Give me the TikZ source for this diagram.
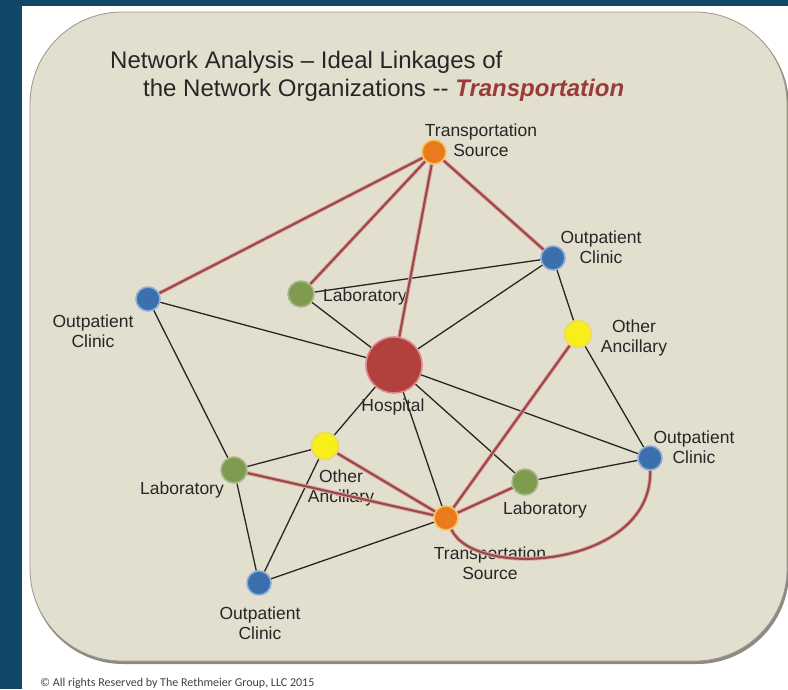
\documentclass[tikz,border=0pt]{standalone}
\usepackage{fontspec}
\setmainfont{Liberation Sans}
\newfontfamily\cfont{Carlito}
\pgfdeclarelayer{bg}
\pgfdeclarelayer{lbl}
\pgfdeclarelayer{edg}
\pgfsetlayers{bg,lbl,edg,main}
\definecolor{navy}{HTML}{104766}
\definecolor{beige}{HTML}{E3DFCF}
\definecolor{boxline}{HTML}{9A978C}
\definecolor{shadowc}{HTML}{8C8A82}
\definecolor{redl}{HTML}{9E4848}
\definecolor{redglow}{HTML}{DBA9A6}
\definecolor{titlered}{HTML}{9B3A3A}
\definecolor{bluec}{HTML}{3B6FAE}
\definecolor{blueg}{HTML}{8EAED4}
\definecolor{greenc}{HTML}{7F9B4F}
\definecolor{greeng}{HTML}{A9B98E}
\definecolor{yellowc}{HTML}{F7EE1A}
\definecolor{yellowg}{HTML}{E8DA6A}
\definecolor{orangec}{HTML}{EA7A1E}
\definecolor{orangeg}{HTML}{F4C45A}
\definecolor{hospc}{HTML}{B2403D}
\definecolor{hospg}{HTML}{D98A86}
\begin{document}
\begin{tikzpicture}[x=1pt,y=-1pt,
  dot/.style={circle,inner sep=0pt,line width=1.6pt},
  bluedot/.style={dot,fill=bluec,draw=blueg,minimum size=24pt},
  greendot/.style={dot,fill=greenc,draw=greeng,minimum size=26pt},
  yellowdot/.style={dot,fill=yellowc,draw=yellowg,minimum size=27pt},
  orangedot/.style={dot,fill=orangec,draw=orangeg,minimum size=24pt},
  hospdot/.style={dot,fill=hospc,draw=hospg,minimum size=56pt},
  lab/.style={inner sep=0pt,align=center,font=\fontsize{17.5}{20.5}\selectfont,text=black!85},
  blk/.style={draw=black!85,line width=1.3pt},
  redlink/.style={draw=redl,line width=2.2pt,preaction={draw=redglow,line width=4pt}},
  titlef/.style={inner sep=0pt,anchor=base west,font=\fontsize{24}{28}\selectfont,text=black!85}]
\useasboundingbox (0,0) rectangle (788,689);
\begin{pgfonlayer}{bg}
  \fill[white] (0,0) rectangle (788,689);
  \fill[navy] (0,0) rectangle (788,6);
  \fill[navy] (0,0) rectangle (22,689);
  \fill[shadowc,rounded corners=92pt] (31,14) rectangle (789,664);
  \filldraw[fill=beige,draw=boxline,line width=0.8pt,rounded corners=92pt] (30,12) rectangle (787,661);
\end{pgfonlayer}

\node[titlef] (t1) at (110,68) {Network Analysis – Ideal Linkages of};
\node[titlef] (t2) at (143,96) {the Network Organizations -{}- \textcolor{titlered}{\bfseries\itshape Transportation}};

% nodes
\node[orangedot] (tst) at (434,152) {};
\node[bluedot]   (octr) at (553,258) {};
\node[greendot]  (labt) at (301,294) {};
\node[bluedot]   (ocl) at (148,299) {};
\node[yellowdot] (oar) at (578,334) {};
\node[hospdot]   (hosp) at (394,365) {};
\node[yellowdot] (oal) at (325,446) {};
\node[bluedot]   (ocr) at (650,458) {};
\node[greendot]  (labl) at (234,470) {};
\node[greendot]  (labr) at (525,482) {};
\node[orangedot] (tsb) at (446,518) {};
\node[bluedot]   (ocb) at (259,583) {};

% labels
\begin{pgfonlayer}{lbl}
\node[lab] (ltst) at (481,140) {Transportation\\Source};
\node[lab] (locTR) at (601,247) {Outpatient\\Clinic};
\node[lab] (llabt) at (365,297) {Laboratory};
\node[lab] (locl) at (93,331) {Outpatient\\Clinic};
\node[lab] (loar) at (634,338) {Other\\Ancillary};
\node[lab] (lhosp) at (393,407) {Hospital};
\node[lab] (loal) at (341,488) {Other\\Ancillary};
\node[lab] (locr) at (694,447) {Outpatient\\Clinic};
\node[lab] (llabl) at (182,490) {Laboratory};
\node[lab] (llabr) at (545,510) {Laboratory};
\node[lab] (ltsb) at (490,563) {Transportation\\Source};
\node[lab] (locb) at (260,623) {Outpatient\\Clinic};
\end{pgfonlayer}

\begin{pgfonlayer}{edg}
% black links
\draw[blk] (labt) -- (octr);
\draw[blk] (labt) -- (hosp);
\draw[blk] (ocl) -- (hosp);
\draw[blk] (ocl) -- (labl);
\draw[blk] (octr) -- (hosp);
\draw[blk] (octr) -- (oar);
\draw[blk] (oar) -- (ocr);
\draw[blk] (hosp) -- (ocr);
\draw[blk] (hosp) -- (labr);
\draw[blk] (hosp) -- (oal);
\draw[blk] (hosp) -- (tsb);
\draw[blk] (labl) -- (oal);
\draw[blk] (labl) -- (ocb);
\draw[blk] (oal) -- (ocb);
\draw[blk] (ocb) -- (tsb);
\draw[blk] (labr) -- (ocr);
% red links
\draw[redlink] (tst) -- (ocl);
\draw[redlink] (tst) -- (labt);
\draw[redlink] (tst) -- (hosp);
\draw[redlink] (tst) -- (octr);
\draw[redlink] (tsb) -- (oal);
\draw[redlink] (tsb) -- (labl);
\draw[redlink] (tsb) -- (oar);
\draw[redlink] (tsb) -- (labr);
\draw[redlink] (tsb) .. controls (475,580) and (652,568) .. (ocr);
\end{pgfonlayer}

\node[inner sep=0pt,anchor=base west,font=\cfont\fontsize{12}{14}\selectfont,text=black!75] (copy) at (40,686) {© All rights Reserved by The Rethmeier Group, LLC 2015};
\end{tikzpicture}
\end{document}
